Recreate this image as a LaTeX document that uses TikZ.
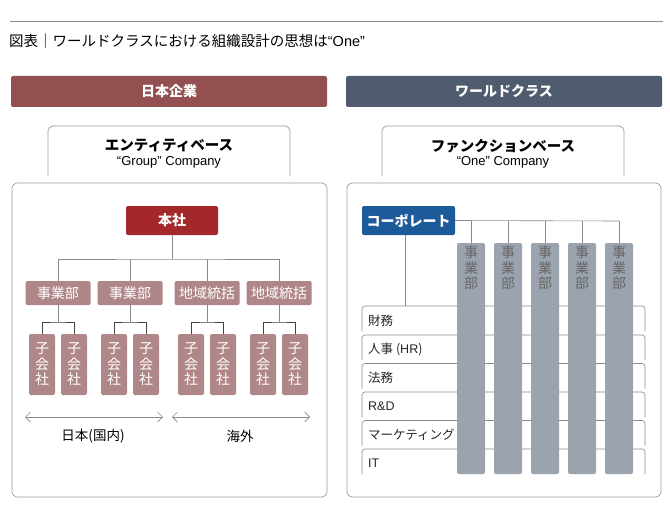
\documentclass[tikz,border=0pt]{standalone}
\usepackage{fontspec}
\usetikzlibrary{arrows.meta}
\setmainfont{Noto Sans CJK JP}
\newfontfamily\latn{Liberation Sans}
\begin{document}
\begin{tikzpicture}[x=1pt,y=-1pt,
 redhead/.style={fill=hdred,rounded corners=2pt,text=white,font=\fontsize{14}{14}\selectfont\bfseries},
 bluehead/.style={fill=hdblue,rounded corners=2pt,text=white,font=\fontsize{14}{14}\selectfont\bfseries},
 bigbox/.style={draw=framegray,line width=0.7pt,rounded corners=5pt},
 rosebox/.style={fill=rose,rounded corners=1.5pt,text=white,inner sep=0pt,font=\fontsize{14}{14}\selectfont},
 kidbox/.style={fill=rose,rounded corners=2pt,text=white,inner sep=0pt,minimum width=26pt,minimum height=61pt,font=\fontsize{14}{15.5}\selectfont,align=center},
 colbox/.style={fill=colgray,rounded corners=2pt,inner sep=0pt,minimum width=28pt,minimum height=231pt},
 conn/.style={draw=linegray,line width=0.6pt},
 kconn/.style={draw=black!75,line width=0.8pt},
 dblarrow/.style={draw=linegray,line width=0.6pt,{Straight Barb[length=5pt,width=10pt]}-{Straight Barb[length=5pt,width=10pt]}},
 rowlab/.style={anchor=west,font=\fontsize{12.5}{12.5}\selectfont,text=black!85,inner sep=0pt}]
\definecolor{hdred}{HTML}{944F51}
\definecolor{hdblue}{HTML}{4F5B6E}
\definecolor{darkred}{HTML}{A4282A}
\definecolor{corpblue}{HTML}{1D5A99}
\definecolor{rose}{HTML}{B08789}
\definecolor{colgray}{HTML}{9BA3AE}
\definecolor{framegray}{HTML}{9A9A9A}
\definecolor{linegray}{HTML}{8A8A8A}
\useasboundingbox (0,0) rectangle (670,511);
\fill[white] (0,0) rectangle (670,511);
% title
\draw[linegray,line width=0.6pt] (10,21) -- (663,21);
\node[anchor=west,inner sep=0pt,font=\fontsize{14.5}{15}\selectfont] (title) at (9,41) {図表｜ワールドクラスにおける組織設計の思想は{\latn “One”}};
% headers
\node[redhead,minimum width=316pt,minimum height=31pt] (hl) at (169,91.5) {日本企業};
\node[bluehead,minimum width=316pt,minimum height=31pt] (hr) at (504,91.5) {ワールドクラス};
% bracket boxes
\draw[framegray,line width=0.7pt,rounded corners=5pt] (48,176) -- (48,126) -- (290,126) -- (290,176);
\node[font=\fontsize{14.5}{14.5}\selectfont\bfseries,inner sep=0pt] (ent) at (169,146) {エンティティベース};
\node[font=\latn\fontsize{13}{13}\selectfont,inner sep=0pt] (entg) at (169,162) {“Group” Company};
\draw[framegray,line width=0.7pt,rounded corners=5pt] (382,176) -- (382,126) -- (624,126) -- (624,176);
\node[font=\fontsize{14.5}{14.5}\selectfont\bfseries,inner sep=0pt] (fun) at (503,146) {ファンクションベース};
\node[font=\latn\fontsize{13}{13}\selectfont,inner sep=0pt] (funo) at (503,162) {“One” Company};
% big boxes
\draw[bigbox] (12,183) rectangle (327,497);
\draw[bigbox] (347,183) rectangle (661,497);
% LEFT
\node[fill=darkred,rounded corners=2pt,text=white,minimum width=92pt,minimum height=29pt,inner sep=0pt,font=\fontsize{14}{14}\selectfont\bfseries] (hq) at (172,220.5) {本社};
\coordinate (hb) at (172,259);
\draw[conn] (hq.south) -- (hb);
\foreach \n/\x/\t in {d1/58/事業部,d2/130/事業部,d3/207/地域統括,d4/279/地域統括}{
  \node[rosebox,minimum width=65pt,minimum height=24pt] (\n) at (\x,293) {\t};
}
\draw[conn] (d1.north) |- (hb) -| (d4.north);
\draw[conn] (d2.north) -- (d2.north |- hb);
\draw[conn] (d3.north) -- (d3.north |- hb);
\foreach \n/\x in {d1/58,d2/130,d3/207,d4/279}{
  \node[kidbox] (\n a) at (\x-16,364.5) {子\\会\\社};
  \node[kidbox] (\n b) at (\x+16,364.5) {子\\会\\社};
  \coordinate (\n j) at (\x,322);
  \draw[conn] (\n.south) -- (\n j);
  \draw[kconn] (\n a.north) |- (\n j) -| (\n b.north);
}
\coordinate (a1l) at (25,417); \coordinate (a1r) at (163,417);
\coordinate (a2l) at (172,417); \coordinate (a2r) at (310,417);
\draw[dblarrow] (a1l) -- (a1r);
\draw[dblarrow] (a2l) -- (a2r);
\node[font=\fontsize{13.5}{13.5}\selectfont,inner sep=0pt] (jp) at (93,436) {日本(国内)};
\node[font=\fontsize{13.5}{13.5}\selectfont,inner sep=0pt] (ov) at (240,436) {海外};
% RIGHT rows
\foreach \n/\y/\t in {r1/306/財務,r2/335/人事 ({\latn HR}),r3/363.5/法務,r4/392/{\latn R\&D},r5/420.5/マーケティング,r6/449/{\latn IT}}{
  \draw[linegray,line width=0.6pt,rounded corners=3pt] (362,\y+25) -- (362,\y) -- (645,\y) -- (645,\y+25);
  \node[rowlab] (\n) at (368,\y+14.5) {\t};
}
% columns
\node[fill=corpblue,rounded corners=2pt,text=white,minimum width=93pt,minimum height=29pt,inner sep=0pt,font=\fontsize{14}{14}\selectfont\bfseries] (corp) at (408.5,220.5) {コーポレート};
\coordinate (cj) at (619,221);
\draw[conn] (corp.east) -- (cj);
\foreach \n/\x in {c1/471,c2/508,c3/545,c4/582,c5/619}{
  \node[colbox] (\n) at (\x,358.5) {};
  \node[anchor=north,inner sep=0pt,font=\fontsize{14}{15.5}\selectfont,align=center,text=black!60] (\n t) at (\x,246) {事\\業\\部};
  \draw[conn] (\n.north) -- (\n.north |- cj);
}
\coordinate (cb) at (405,306);
\draw[conn] (corp.south -| cb) -- (cb);
\end{tikzpicture}
\end{document}
